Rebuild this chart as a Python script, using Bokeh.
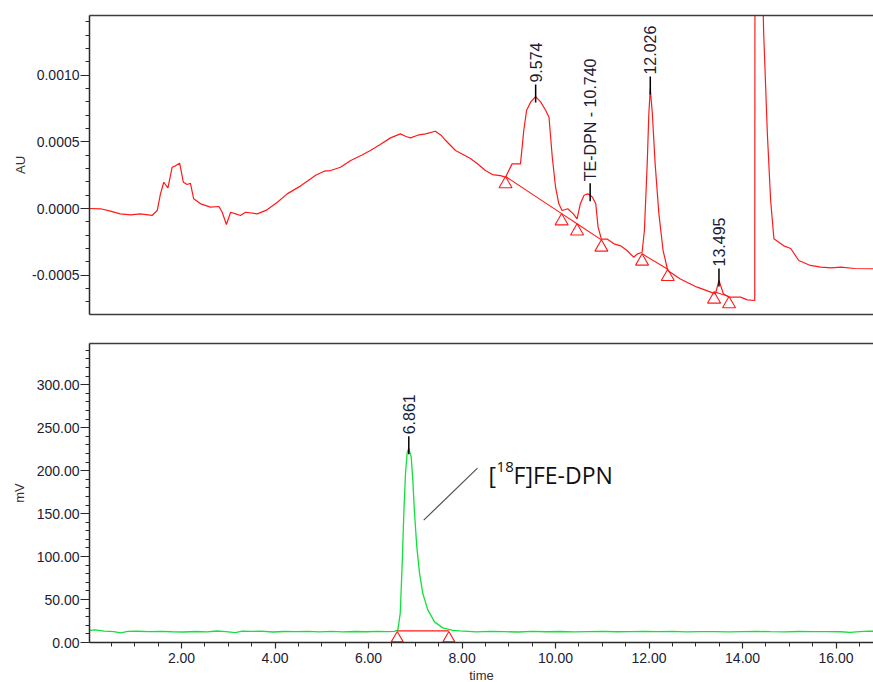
import numpy as np
from bokeh.plotting import figure
from bokeh.layouts import column
from bokeh.models import Range1d, FixedTicker, NumeralTickFormatter, LinearAxis
from bokeh.core.properties import value
from bokeh.embed import file_html
from bokeh.resources import INLINE

# ---------------- data: UV trace (AU) ----------------
uv_time = [0.03, 0.27, 0.48, 0.69, 0.91, 1.12, 1.37, 1.48, 1.55, 1.62, 1.71, 1.80, 1.87, 1.96,
           2.04, 2.12, 2.19, 2.26, 2.41, 2.62, 2.80, 2.87, 2.96, 3.05, 3.16, 3.26, 3.37, 3.62,
           3.83, 4.05, 4.26, 4.55, 4.87, 5.05, 5.19, 5.40, 5.62, 5.85, 6.04, 6.25, 6.47, 6.68,
           6.80, 6.90, 7.05, 7.22, 7.43, 7.55, 7.65, 7.86, 8.05, 8.18, 8.35, 8.50, 8.65, 8.82,
           8.93, 9.07, 9.25, 9.32, 9.38, 9.47, 9.574, 9.68, 9.79, 9.86, 9.93, 10.00, 10.07,
           10.14, 10.26, 10.38, 10.46, 10.53, 10.61, 10.69, 10.74, 10.79, 10.86, 10.91, 10.98,
           11.11, 11.25, 11.39, 11.53, 11.67, 11.75, 11.85, 11.90, 11.96, 11.995, 12.026,
           12.07, 12.13, 12.21, 12.30, 12.40, 12.66, 12.85, 13.03, 13.32, 13.42, 13.495,
           13.59, 13.71, 13.96, 14.10, 14.26, 14.30, 14.42, 14.45, 14.53, 14.60, 14.67,
           14.88, 15.03, 15.20, 15.45, 15.67, 15.90, 16.10, 16.40, 16.80]
uv_au = [0.0, -0.000002, -0.00002, -0.00004, -0.000047, -0.00004, -0.000052, -0.000015,
         0.00011, 0.000197, 0.000155, 0.00031, 0.00032, 0.00034, 0.000197, 0.00018, 0.00019,
         0.000073, 0.000035, 0.00001, 0.000015, -0.000028, -0.00012, -0.000028, -0.00004,
         -0.000052, -0.000028, -0.00004, -0.00001, 0.000047, 0.00011, 0.00017, 0.00025,
         0.00028, 0.000285, 0.00031, 0.00036, 0.0004, 0.000435, 0.00048, 0.00053, 0.00056,
         0.00054, 0.00053, 0.00055, 0.00056, 0.00058, 0.00055, 0.00051, 0.000435, 0.0004,
         0.000375, 0.00033, 0.000285, 0.000255, 0.000247, 0.000235, 0.000335, 0.000335,
         0.000585, 0.000735, 0.0008, 0.00084, 0.0008, 0.000735, 0.000685, 0.000385, 0.00016,
         0.000035, -0.000015, -0.000002, -0.00004, -0.000077, 0.000035, 0.0001, 0.00011,
         0.0001, 0.000085, 0.000035, -0.00014, -0.00023, -0.00023, -0.000265, -0.00028,
         -0.000315, -0.000365, -0.00034, -0.00033, -0.000165, 0.000335, 0.00071, 0.0009,
         0.00071, 0.000335, -0.00004, -0.000315, -0.000465, -0.000527, -0.00056, -0.00059,
         -0.000627, -0.00064, -0.00054, -0.00064, -0.000665, -0.000665, -0.000685, -0.00069,
         0.02, 0.0018, 0.00133, 0.00056, 0.00006, -0.000227, -0.00028, -0.0003, -0.00039,
         -0.000427, -0.00044, -0.000445, -0.00044, -0.00045, -0.000452]

# integration marks (peak start / end) on the UV trace
uv_mark_time = [8.93, 10.13, 10.46, 10.98, 11.85, 12.40, 13.39, 13.71]
uv_mark_au = [0.00024, -0.000038, -0.000114, -0.000235, -0.00034, -0.000455, -0.000625, -0.00066]
uv_base_groups = [[0, 1, 2, 3], [4, 5], [6, 7]]

uv_peak_label = ["9.574", "TE-DPN - 10.740", "12.026", "13.495"]
uv_peak_time = [9.574, 10.740, 12.026, 13.495]
uv_peak_au = [0.00084, 0.0001, 0.0009, -0.00054]

# ---------------- data: radio trace (mV) ----------------
rad_time = [0.03, 0.15, 0.35, 0.55, 0.70, 0.85, 1.05, 1.30, 1.55, 1.80, 2.05, 2.30, 2.55,
            2.75, 2.95, 3.15, 3.30, 3.50, 3.70, 3.95, 4.20, 4.45, 4.70, 4.95, 5.20, 5.45,
            5.70, 5.95, 6.20, 6.40, 6.55, 6.626, 6.678, 6.72, 6.755, 6.791, 6.827, 6.861,
            6.913, 6.947, 6.983, 7.033, 7.09, 7.161, 7.268, 7.411, 7.588, 7.80, 7.95, 8.30,
            8.60, 8.90, 9.20, 9.50, 9.80, 10.10, 10.40, 10.70, 11.00, 11.30, 11.60, 11.90,
            12.20, 12.50, 12.80, 13.10, 13.40, 13.70, 14.00, 14.30, 14.60, 14.90, 15.20,
            15.50, 15.80, 16.10, 16.30, 16.50, 16.70, 16.80]
rad_mv = [14.0, 14.8, 13.2, 12.6, 11.2, 12.9, 13.1, 12.6, 12.9, 12.5, 12.2, 12.8, 12.4,
          13.4, 12.6, 11.6, 13.3, 12.9, 13.2, 12.2, 12.8, 12.6, 13.0, 12.4, 12.9, 12.3,
          12.8, 12.5, 12.9, 12.6, 13.0, 14.3, 34.0, 92.0, 151.0, 197.0, 221.5, 226.0,
          215.7, 189.0, 151.0, 111.0, 81.0, 57.0, 38.0, 24.0, 17.0, 14.2, 13.6, 12.4,
          12.9, 12.6, 12.2, 12.9, 12.5, 12.8, 12.3, 12.7, 12.9, 12.5, 12.6, 13.0,
          12.7, 12.9, 12.4, 12.6, 12.7, 12.3, 12.6, 12.9, 12.6, 12.4, 12.8,
          12.6, 12.7, 12.5, 11.9, 12.6, 13.3, 13.1]

rad_mark_time = [6.614, 7.718]
rad_mark_mv = [13.5, 13.5]

rad_peak_label = ["6.861"]
rad_peak_time = [6.861]
rad_peak_mv = [226.0]

uv_ticks = [-0.0005, 0.0, 0.0005, 0.0010]
uv_minor = [round(-0.0007 + i * 0.0001, 4) for i in range(22)]
mv_ticks = [0, 50, 100, 150, 200, 250, 300]
mv_minor = list(range(10, 350, 10))
t_ticks = [2, 4, 6, 8, 10, 12, 14, 16]
t_minor = [i * 0.5 for i in range(1, 34)]

# ---------------- layout constants ----------------
X0, X1 = 0.032, 16.80
FW, FH = 784, 299
AU0, AU1 = -0.000795, 0.001448
MV0, MV1 = 0.0, 348.0
au_px = (AU1 - AU0) / FH
mv_px = (MV1 - MV0) / FH

LABEL_COLOR = "#1c1c34"
AXIS_COLOR = "#2a2a2a"
BORDER_COLOR = "#3c3c3c"
RED = "#ff1a1a"
GREEN = "#12e03c"
TRI = 13


def style_y(ax, ticks, minor, fmt, label, standoff):
    ax.ticker = FixedTicker(ticks=ticks, minor_ticks=minor)
    ax.formatter = NumeralTickFormatter(format=fmt)
    ax.axis_label = label
    ax.axis_label_text_font = "Liberation Sans"
    ax.axis_label_text_font_size = "13px"
    ax.axis_label_text_font_style = "normal"
    ax.axis_label_text_color = "#3a2c2c"
    ax.axis_label_standoff = standoff
    ax.major_label_text_font = "Liberation Sans"
    ax.major_label_text_font_size = "14px"
    ax.major_label_text_color = LABEL_COLOR
    ax.major_label_standoff = 1
    ax.major_tick_out = 9
    ax.major_tick_in = 0
    ax.minor_tick_out = 4
    ax.minor_tick_in = 0
    ax.axis_line_color = AXIS_COLOR
    ax.axis_line_width = 1.5
    ax.major_tick_line_color = AXIS_COLOR
    ax.minor_tick_line_color = AXIS_COLOR
    ax.major_tick_line_width = 1.2


def border_axis():
    # a plain line along a frame edge (no ticks, no labels)
    return LinearAxis(ticker=FixedTicker(ticks=[], minor_ticks=[]),
                      major_tick_out=0, major_tick_in=0, minor_tick_out=0, minor_tick_in=0,
                      major_label_standoff=0, axis_line_color=BORDER_COLOR,
                      axis_line_width=1.5, major_label_text_font_size="0px")


def add_labels(p, t, y, txt, px):
    p.segment(x0=t, y0=[v - 6 * px for v in y], x1=t, y1=[v + 12 * px for v in y],
              line_color="black", line_width=1.5)
    p.text(x=t, y=[v + 14 * px for v in y], text=txt, angle=np.pi / 2,
           text_align="left", text_baseline="middle",
           text_font=value("Liberation Sans"), text_font_size="16px",
           text_color=LABEL_COLOR)


# ---------------- top panel (UV) ----------------
p1 = figure(frame_width=FW, frame_height=FH, x_range=Range1d(X0, X1),
            y_range=Range1d(AU0, AU1), output_backend="svg", toolbar_location=None,
            x_axis_location=None, min_border_left=89, min_border_right=0,
            min_border_top=15, min_border_bottom=14)
p1.grid.grid_line_color = None
p1.outline_line_color = None
p1.add_layout(border_axis(), "above")
p1.add_layout(border_axis(), "below")
style_y(p1.yaxis[0], uv_ticks, uv_minor, "0.0000", "AU", 1)

p1.line(uv_time, uv_au, line_color=RED, line_width=1.2)
p1.multi_line(xs=[[uv_mark_time[i] for i in g] for g in uv_base_groups],
              ys=[[uv_mark_au[i] for i in g] for g in uv_base_groups],
              line_color=RED, line_width=1.1)
p1.scatter(uv_mark_time, [v - 0.577 * TRI * au_px for v in uv_mark_au], marker="triangle",
           size=TRI, fill_color=None, line_color=RED, line_width=1.1)
add_labels(p1, uv_peak_time, uv_peak_au, uv_peak_label, au_px)

# ---------------- bottom panel (radio) ----------------
p2 = figure(frame_width=FW, frame_height=FH, x_range=Range1d(X0, X1),
            y_range=Range1d(MV0, MV1), output_backend="svg", toolbar_location=None,
            min_border_left=89, min_border_right=0, min_border_top=15, min_border_bottom=40)
p2.grid.grid_line_color = None
p2.outline_line_color = None
xa = p2.below[0]
p2.add_layout(border_axis(), "above")
style_y(p2.left[0], mv_ticks, mv_minor, "0.00", "mV", 7)

xa.ticker = FixedTicker(ticks=t_ticks, minor_ticks=t_minor)
xa.formatter = NumeralTickFormatter(format="0.00")
xa.axis_label = "time"
xa.axis_label_text_font = "Liberation Sans"
xa.axis_label_text_font_size = "13px"
xa.axis_label_text_font_style = "normal"
xa.axis_label_text_color = "#3a2c2c"
xa.axis_label_standoff = 2
xa.major_label_text_font = "Liberation Sans"
xa.major_label_text_font_size = "14px"
xa.major_label_text_color = LABEL_COLOR
xa.major_label_standoff = 4
xa.major_tick_out = 6
xa.major_tick_in = 0
xa.minor_tick_out = 4
xa.minor_tick_in = 0
xa.axis_line_color = AXIS_COLOR
xa.axis_line_width = 1.5
xa.major_tick_line_color = AXIS_COLOR
xa.minor_tick_line_color = AXIS_COLOR
xa.major_tick_line_width = 1.2

p2.line(rad_time, rad_mv, line_color=GREEN, line_width=1.3)
p2.line(rad_mark_time, rad_mark_mv, line_color=RED, line_width=1.1)
p2.scatter(rad_mark_time, [v - 0.577 * TRI * mv_px for v in rad_mark_mv], marker="triangle",
           size=TRI - 1, fill_color=None, line_color=RED, line_width=1.1)
add_labels(p2, rad_peak_time, rad_peak_mv, rad_peak_label, mv_px)

# annotation "[18F]FE-DPN" with leader line
p2.line([7.18, 8.33], [142.4, 202.9], line_color="#505050", line_width=1.2)
p2.text(x=[8.567], y=[194.7], text=["["], text_font=value("Open Sans"),
        text_font_size="23px", text_color="#111111", text_baseline="alphabetic")
p2.text(x=[8.738], y=[204.8], text=["18"], text_font=value("Open Sans"),
        text_font_size="15px", text_color="#111111", text_baseline="alphabetic")
p2.text(x=[9.102], y=[194.7], text=["F]FE-DPN"], text_font=value("Open Sans"),
        text_font_size="23px", text_color="#111111", text_baseline="alphabetic")

layout = column(p1, p2)
open("out.html", "w").write(file_html(layout, INLINE))
